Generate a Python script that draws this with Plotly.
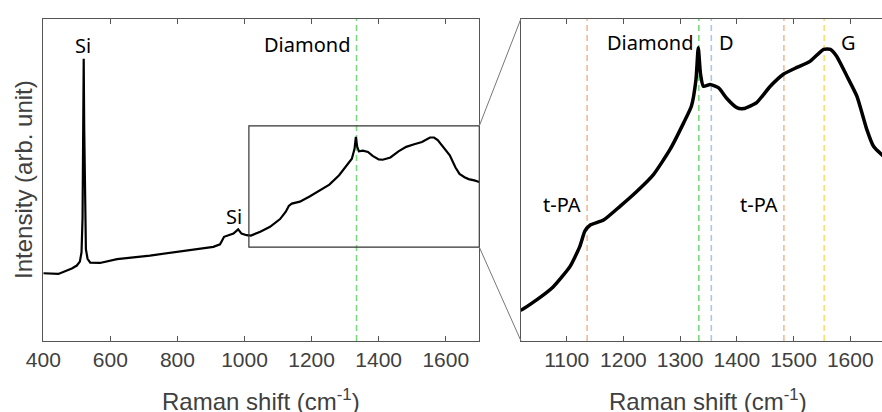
import plotly.graph_objects as go

# ---------------- data ----------------
shift_cm = [400, 445, 485, 500, 509, 514, 517, 519, 520.5, 522, 524, 527, 532, 540,
            569, 620, 718, 817, 907, 927, 939, 967, 981, 991, 1006, 1019, 1047, 1076,
            1106, 1123, 1132, 1141, 1165, 1194, 1223, 1253, 1282, 1306, 1320, 1328,
            1332, 1336, 1341, 1353, 1368, 1382, 1400, 1412, 1435, 1459, 1482, 1506,
            1529, 1553, 1565, 1576, 1594, 1612, 1629, 1641, 1656, 1668, 1685, 1700]
intensity = [21.0, 20.8, 22.5, 23.4, 24.6, 27.5, 38.0, 65.0, 87.5, 66.0, 40.0, 28.5, 25.5, 24.3,
             24.2, 25.4, 26.5, 28.0, 29.2, 30.0, 32.3, 33.3, 34.6, 33.3, 32.8, 32.7, 33.9, 35.4,
             37.8, 40.1, 41.9, 42.6, 43.2, 44.8, 46.5, 48.5, 51.4, 54.5, 56.5, 59.6,
             63.3, 60.2, 58.8, 59.0, 58.6, 57.4, 56.3, 56.2, 56.9, 58.8, 60.2, 61.0,
             61.7, 63.1, 63.1, 62.3, 60.0, 57.6, 53.8, 51.8, 50.8, 50.2, 49.8, 49.3]

full_xrange = [400, 1700]
full_yrange = [0, 100]
zoom_xrange = [1019.4, 1656]
zoom_yrange = [29.1, 66.7]
zoom_box_x0 = 1013

left_ticks = [400, 600, 800, 1000, 1200, 1400, 1600]
right_ticks = [1100, 1200, 1300, 1400, 1500, 1600]

left_peak_lines = [1334]
right_peak_lines = [1136, 1333, 1355, 1483, 1554]

left_labels = ["Si", "Si", "Diamond"]
left_label_x = [517, 969, 1334]
left_label_y = [91.6, 38.5, 92.0]

right_labels = ["Diamond", "D", "G", "t-PA", "t-PA"]
right_label_x = [1333, 1382, 1597, 1091, 1439]
right_label_y = [63.9, 63.9, 63.9, 45.0, 45.0]

x_title = "Raman shift (cm<sup>-1</sup>)"
y_title = "Intensity (arb. unit)"

# ---------------- styles ----------------
W, H = 882, 412
L_dom = [43.3 / W, 479.3 / W]
R_dom = [521.0 / W, 1.0]
Y_dom = [(H - 341.0) / H, (H - 18.5) / H]
axis_col = "#555555"
left_line_cols = ["#7ad97a"]
right_line_cols = ["#f4b99a", "#7ad97a", "#a9c8e8", "#f4b99a", "#ffdc70"]
left_label_anchor = ["center", "center", "right"]
left_label_shift = [0, 0, -5]
right_label_anchor = ["right", "center", "center", "center", "center"]
right_label_shift = [-4, 0, 0, 0, 0]
tick_font = dict(family="Liberation Sans, Arial", size=21, color="#404040")
title_font = dict(family="Liberation Sans, Arial", size=24, color="#404040")
label_font = dict(family="Noto Sans", size=20, color="black")

fig = go.Figure()
fig.add_trace(go.Scatter(x=shift_cm, y=intensity, mode="lines",
                         line=dict(color="black", width=2.2), xaxis="x", yaxis="y",
                         showlegend=False))
fig.add_trace(go.Scatter(x=shift_cm, y=intensity, mode="lines",
                         line=dict(color="black", width=3.5, shape="spline", smoothing=0.5),
                         xaxis="x2", yaxis="y2", showlegend=False))

shapes = []
for xv, c in zip(left_peak_lines, left_line_cols):
    shapes.append(dict(type="line", xref="x", yref="y domain", x0=xv, x1=xv, y0=0, y1=1,
                       line=dict(color=c, width=1.6, dash="6px,4px"), layer="below"))
for xv, c in zip(right_peak_lines, right_line_cols):
    shapes.append(dict(type="line", xref="x2", yref="y2 domain", x0=xv, x1=xv, y0=0, y1=1,
                       line=dict(color=c, width=1.6, dash="6px,4px"), layer="below"))

# zoom box
shapes.append(dict(type="rect", xref="x", yref="y", x0=zoom_box_x0, x1=full_xrange[1],
                   y0=zoom_yrange[0], y1=zoom_yrange[1], line=dict(color="#333333", width=1.2)))


def paper_y(v):
    return Y_dom[0] + (v - full_yrange[0]) / (full_yrange[1] - full_yrange[0]) * (Y_dom[1] - Y_dom[0])


shapes.append(dict(type="line", xref="paper", yref="paper", x0=L_dom[1], x1=R_dom[0],
                   y0=paper_y(zoom_yrange[1]), y1=Y_dom[1], line=dict(color="#777777", width=1)))
shapes.append(dict(type="line", xref="paper", yref="paper", x0=L_dom[1], x1=R_dom[0],
                   y0=paper_y(zoom_yrange[0]), y1=Y_dom[0], line=dict(color="#777777", width=1)))

annotations = []
for t, xv, yv, a, s in zip(left_labels, left_label_x, left_label_y, left_label_anchor, left_label_shift):
    annotations.append(dict(text=t, x=xv, y=yv, xref="x", yref="y", showarrow=False,
                            xanchor=a, yanchor="middle", xshift=s, font=label_font))
for t, xv, yv, a, s in zip(right_labels, right_label_x, right_label_y, right_label_anchor, right_label_shift):
    annotations.append(dict(text=t, x=xv, y=yv, xref="x2", yref="y2", showarrow=False,
                            xanchor=a, yanchor="middle", xshift=s, font=label_font))

annotations.append(dict(text=x_title, x=261 / W, y=(H - 383) / H, xref="paper", yref="paper",
                        showarrow=False, xanchor="center", yanchor="top", font=title_font))
annotations.append(dict(text=x_title, x=708 / W, y=(H - 383) / H, xref="paper", yref="paper",
                        showarrow=False, xanchor="center", yanchor="top", font=title_font))
annotations.append(dict(text=y_title, x=23 / W, y=(H - 180) / H, xref="paper", yref="paper",
                        showarrow=False, xanchor="center", yanchor="middle", textangle=-90,
                        font=title_font))

common_x = dict(showline=True, linecolor=axis_col, linewidth=1, mirror="ticks", ticks="inside",
                ticklen=5, tickcolor=axis_col, showgrid=False, zeroline=False, tickfont=tick_font,
                automargin=False)
common_y = dict(showline=True, linecolor=axis_col, linewidth=1, ticks="", showticklabels=False,
                showgrid=False, zeroline=False, automargin=False)

fig.update_layout(
    template="none",
    width=W, height=H, margin=dict(l=0, r=0, t=0, b=0, autoexpand=False),
    paper_bgcolor="white", plot_bgcolor="white", showlegend=False,
    xaxis=dict(domain=L_dom, range=full_xrange, tickvals=left_ticks, anchor="y", **common_x),
    yaxis=dict(domain=Y_dom, range=full_yrange, mirror=True, anchor="x", **common_y),
    xaxis2=dict(domain=R_dom, range=zoom_xrange, tickvals=right_ticks, anchor="y2", **common_x),
    yaxis2=dict(domain=Y_dom, range=zoom_yrange, mirror=False, anchor="x2", **common_y),
    shapes=shapes, annotations=annotations,
)

fig.write_html("out.html")
